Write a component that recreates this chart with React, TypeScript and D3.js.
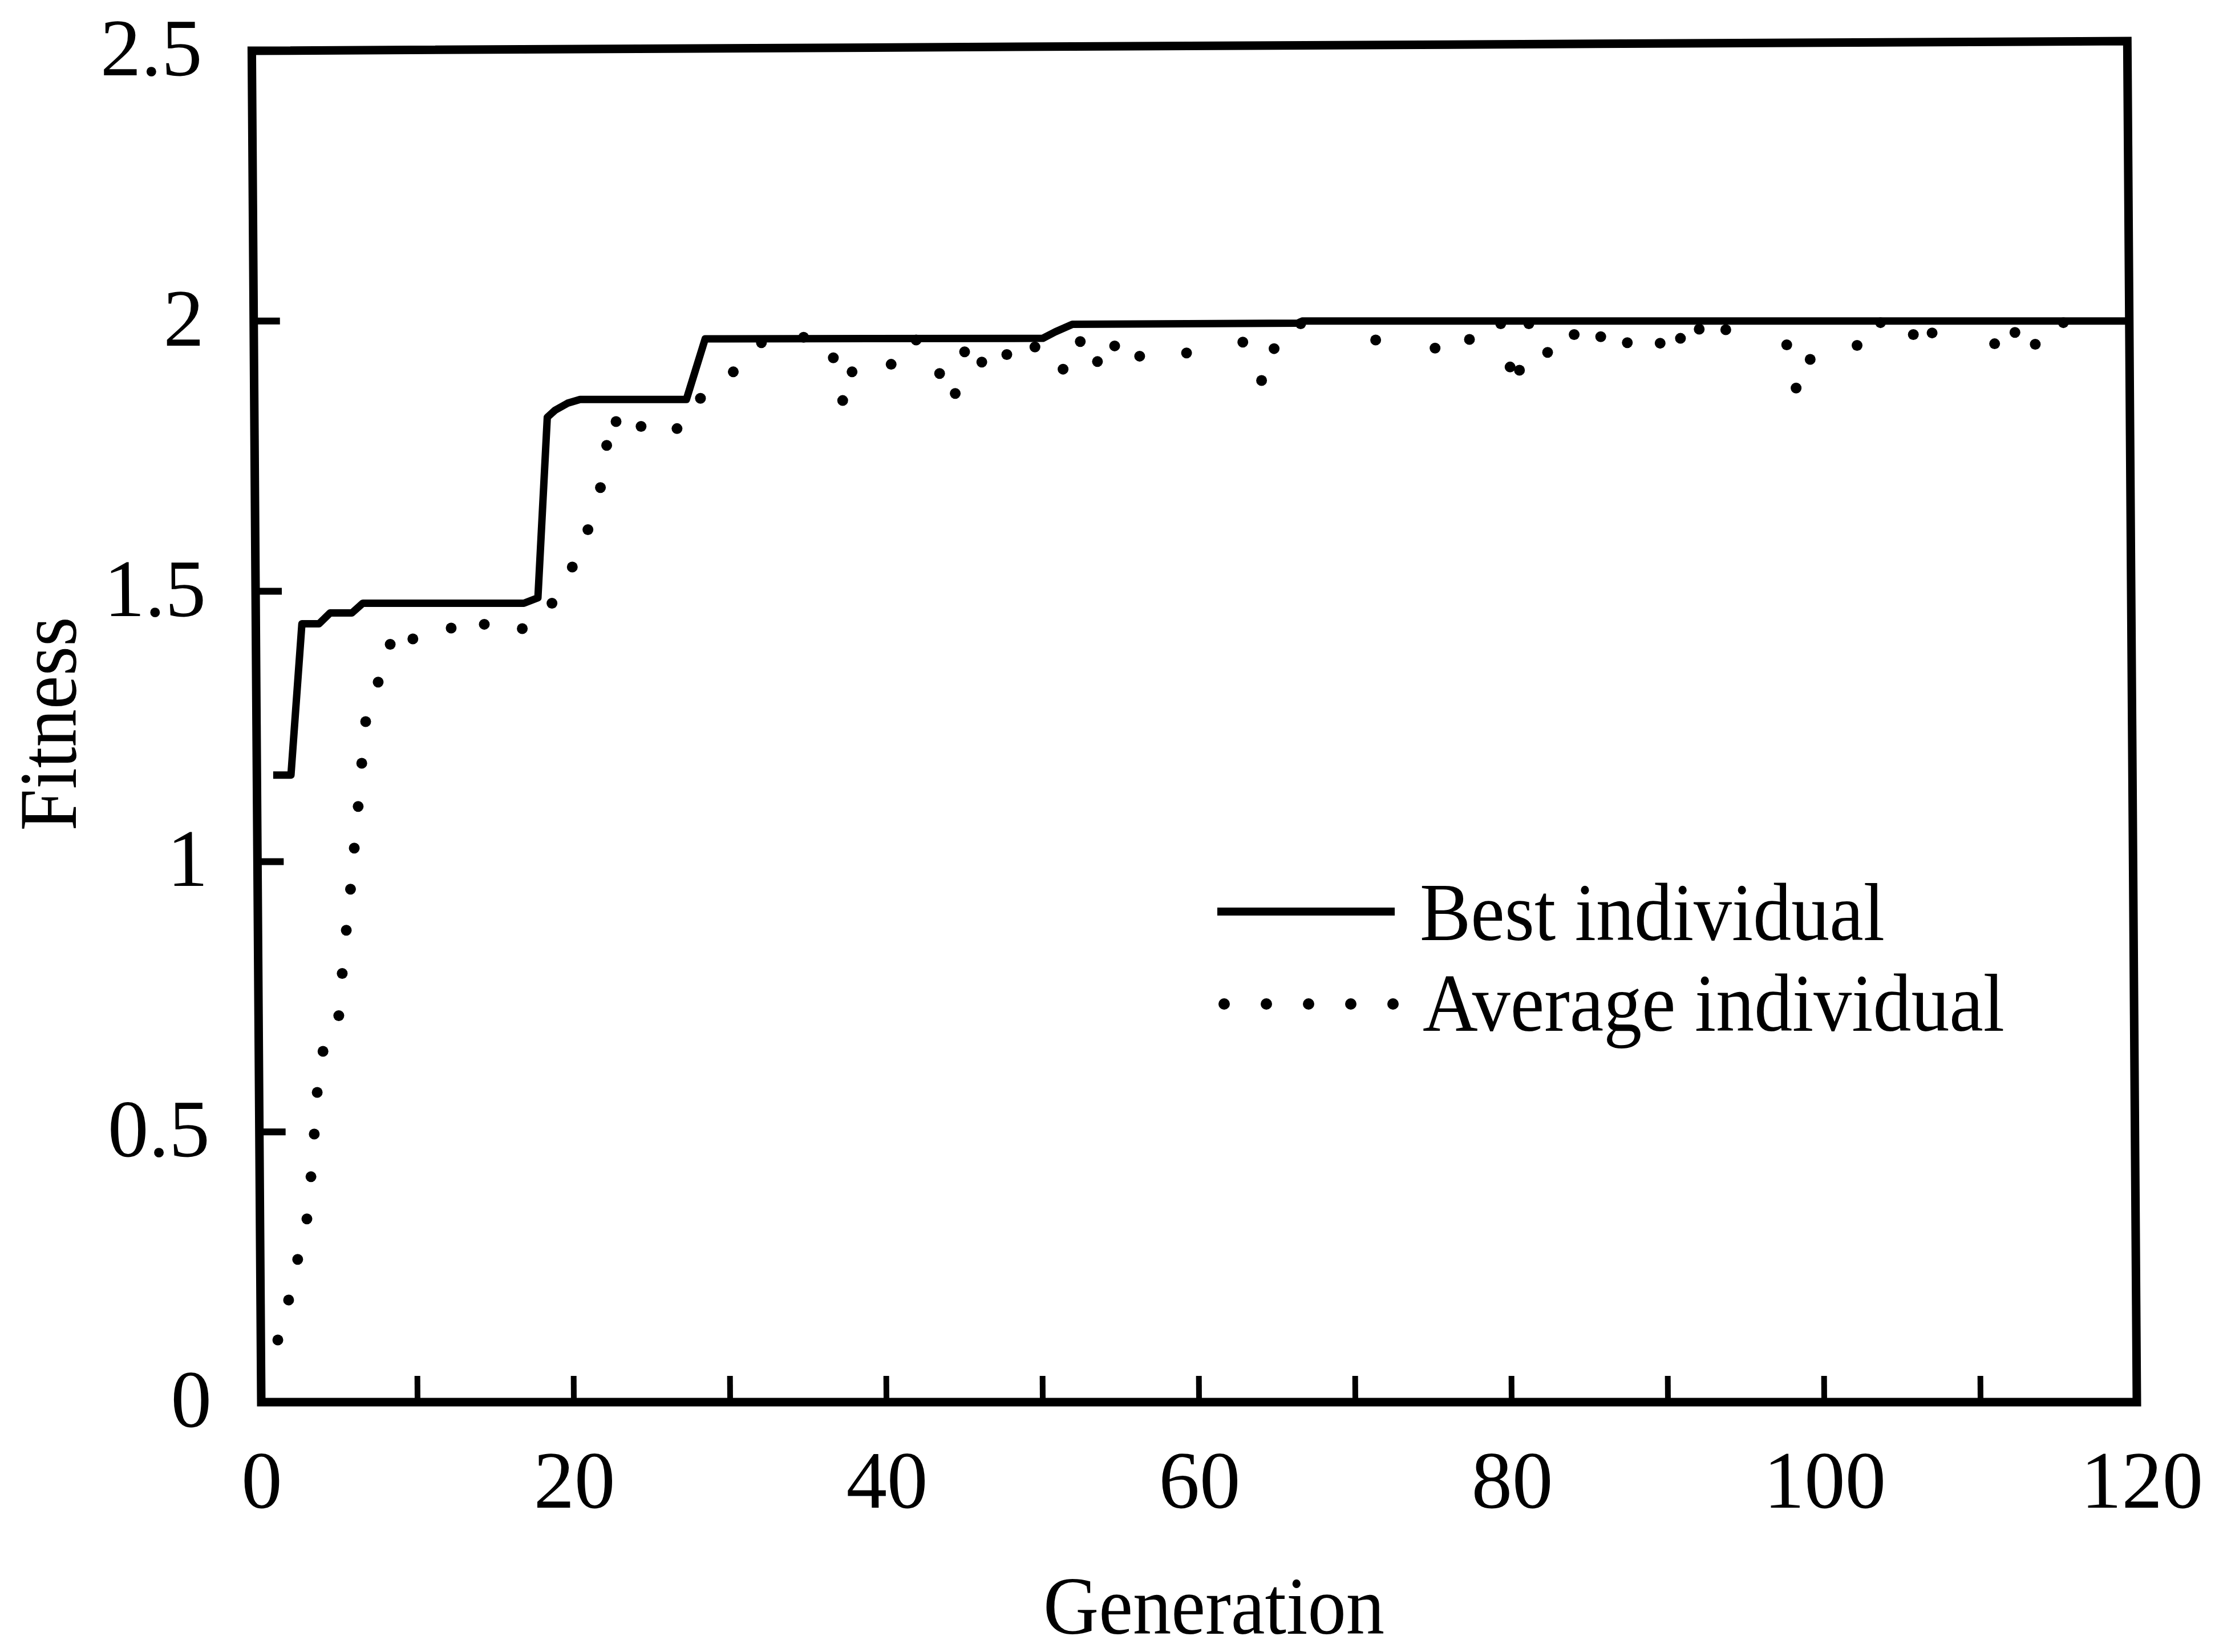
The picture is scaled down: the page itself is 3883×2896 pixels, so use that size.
import React from "react";
import * as d3 from "d3";

// best individual (solid line)
const bestGen = [1, 1.9, 2.6, 3.7, 4.4, 5.8, 6.5, 16.8, 17.7, 18.3, 18.8, 19.6, 20.4, 27.2, 28.4, 50.0, 50.8, 51.9, 66.3, 66.6, 119.5];
const bestFit = [1.16, 1.16, 1.44, 1.44, 1.46, 1.46, 1.478, 1.478, 1.488, 1.822, 1.835, 1.848, 1.855, 1.855, 1.967, 1.968, 1.98, 1.994, 1.996, 2.0, 2.0];

// average individual (dotted curve), one entry per dot
const avgGen = [1.06, 1.75, 2.33, 2.92, 3.18, 3.39, 3.58, 3.95, 4.96, 5.18, 5.44, 5.71, 5.95, 6.2, 6.43, 6.68, 7.48, 8.25, 9.7, 12.15,
  14.27, 16.7, 18.6, 19.9, 20.9, 21.7, 22.1, 22.7, 24.3, 26.6, 28.1, 30.2, 32.0, 34.7, 36.6, 37.2, 37.8, 40.3, 41.9, 43.4,
  44.4, 45.0, 46.1, 47.7, 49.5, 51.3, 52.4, 53.5, 54.6, 56.2, 59.2, 62.8, 64.0, 64.8, 66.5, 71.3, 75.1, 77.3, 79.3, 79.9,
  80.5, 81.1, 82.3, 84.0, 85.7, 87.4, 89.5, 90.8, 92.0, 93.7, 97.6, 98.2, 99.1, 102.1, 103.6, 105.7, 106.9, 110.9, 112.2, 113.5, 115.3];
const avgFit = [0.115, 0.189, 0.264, 0.339, 0.417, 0.496, 0.573, 0.649, 0.715, 0.793, 0.873, 0.949, 1.025, 1.102, 1.182, 1.259, 1.332, 1.402, 1.412, 1.432,
  1.439, 1.431, 1.478, 1.545, 1.614, 1.692, 1.77, 1.814, 1.805, 1.801, 1.857, 1.906, 1.96, 1.97, 1.932, 1.853, 1.906, 1.92, 1.965, 1.903,
  1.866, 1.943, 1.924, 1.938, 1.952, 1.911, 1.962, 1.925, 1.954, 1.935, 1.941, 1.961, 1.89, 1.949, 1.995, 1.965, 1.95, 1.966, 1.995, 1.915,
  1.909, 1.995, 1.942, 1.975, 1.971, 1.96, 1.959, 1.968, 1.985, 1.984, 1.956, 1.876, 1.929, 1.955, 1.997, 1.975, 1.978, 1.958, 1.979, 1.957, 1.997];

const xTicks = [0, 10, 20, 30, 40, 50, 60, 70, 80, 90, 100, 110, 120];
const xLabels = [0, 20, 40, 60, 80, 100, 120];
const yTicks = [0, 0.5, 1, 1.5, 2, 2.5];
const yLabels = ["0", "0.5", "1", "1.5", "2", "2.5"];
const seriesNames = ["Best individual", "Average individual"];

const W = 3883;
const H = 2896;
const font = "'Liberation Serif', 'Times New Roman', serif";

export default function App() {
  const x = d3.scaleLinear().domain([0, 120]).range([458, 3746]);
  const y = d3.scaleLinear().domain([0, 2.5]).range([2458, 89]);

  const best = bestGen.map((g, i) => [g, bestFit[i]] as [number, number]);
  const avg = avgGen.map((g, i) => ({ g, f: avgFit[i] }));
  const line = d3.line<[number, number]>().x(d => x(d[0])).y(d => y(d[1]));

  // the scanned frame leans a little: left/right edges lean left going up, top edge rises to the right
  const shear = 0.007;
  const tilt = 17;
  const x0 = x(0), x1 = x(120), yb = y(0), yt = y(2.5);
  const frame = `M${x0},${yb} L${x1},${yb} L${x1},${yt - tilt} L${x0},${yt} Z`;

  const legX = 2134, legY = 1598;

  return (
    <svg width={W} height={H} style={{ position: "absolute", left: 0, top: 0, background: "#fff" }} fontFamily={font}>
      <rect width={W} height={H} fill="#fff" />

      <path d={line(best) || ""} fill="none" stroke="#000" strokeWidth={13} strokeLinejoin="round" strokeLinecap="square" />
      {avg.map((d, i) => (
        <circle key={"a" + i} cx={x(d.g)} cy={y(d.f)} r={9.5} fill="#000" />
      ))}

      <g transform={`matrix(1,0,${shear},1,${-shear * yb},0)`}>
        <path d={frame} fill="none" stroke="#000" strokeWidth={15} strokeLinejoin="miter" />
        {yTicks.map(t => (
          <line key={"yt" + t} x1={x0} x2={x0 + 46} y1={y(t)} y2={y(t)} stroke="#000" strokeWidth={12} />
        ))}
        {xTicks.map(t => (
          <line key={"xt" + t} x1={x(t)} x2={x(t)} y1={yb} y2={yb - 46} stroke="#000" strokeWidth={10} />
        ))}
        {yTicks.map((t, i) => (
          <text key={"yl" + t} x={x0 - 87} y={y(t) + 43} fontSize={143} textAnchor="end" fill="#000">{yLabels[i]}</text>
        ))}
        {xLabels.map(t => (
          <text key={"xl" + t} x={x(t) + (t === 120 ? 8 : 0)} y={2643} fontSize={143} textAnchor="middle" fill="#000">{t}</text>
        ))}
      </g>

      <text transform="translate(133,1269) rotate(-90)" fontSize={145} textAnchor="middle" textLength={375} lengthAdjust="spacingAndGlyphs" fill="#000">Fitness</text>
      <text x={2128} y={2864} fontSize={145} textAnchor="middle" textLength={598} lengthAdjust="spacingAndGlyphs" fill="#000">Generation</text>

      <line x1={legX} x2={legX + 311} y1={legY} y2={legY} stroke="#000" strokeWidth={14} />
      <text x={2489} y={1648} fontSize={145} textLength={815} lengthAdjust="spacingAndGlyphs" fill="#000">{seriesNames[0]}</text>
      {d3.range(5).map(i => (
        <circle key={"ld" + i} cx={legX + 12 + i * 74} cy={1760} r={10} fill="#000" />
      ))}
      <text x={2494} y={1807} fontSize={145} textLength={1020} lengthAdjust="spacingAndGlyphs" fill="#000">{seriesNames[1]}</text>
    </svg>
  );
}
